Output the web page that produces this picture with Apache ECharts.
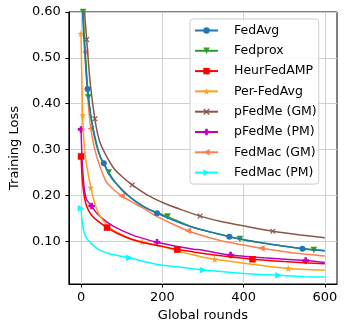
<!DOCTYPE html>
<html><head><meta charset="utf-8">
<script src="https://cdn.jsdelivr.net/npm/echarts@6/dist/echarts.min.js"></script>
<style>html,body{margin:0;padding:0;background:#fff}#c{width:346px;height:330px}</style>
</head><body><div id="c"></div>
<script>
var seriesNames = ['FedAvg','Fedprox','HeurFedAMP','Per-FedAvg','pFedMe (GM)','pFedMe (PM)','FedMac (GM)','FedMac (PM)'];
var xFedAvg = [0,4,10,16,25,35,47,56,75,102,130,160,187,230,277,320,365,420,480,545,600];
var yFedAvg = [1.0,0.6,0.5,0.432,0.37,0.325,0.285,0.27,0.238,0.212,0.19,0.173,0.161,0.145,0.13,0.12,0.110,0.1,0.092,0.084,0.08];
var mFedAvg = [16,56,187,365,545];
var xFedprox = [0,5,10,18,30,45,68,100,130,160,213,277,330,391,450,510,573,600];
var yFedprox = [1.0,0.6,0.52,0.414,0.34,0.29,0.25,0.212,0.19,0.173,0.154,0.13,0.118,0.105,0.096,0.088,0.081,0.079];
var mFedprox = [5,18,68,213,391,573];
var xHeur = [0,2,4,8,14,25,40,64,90,126,160,201,237,277,297,350,422,500,600];
var yHeur = [0.285,0.25,0.226,0.198,0.176,0.158,0.145,0.13,0.117,0.104,0.096,0.089,0.082,0.077,0.074,0.068,0.061,0.056,0.051];
var mHeur = [0,64,237,422];
var xPer = [0,4,10,24,35,46,65,86,126,151,201,250,277,297,329,420,510,600];
var yPer = [0.553,0.375,0.29,0.217,0.18,0.156,0.135,0.121,0.104,0.099,0.088,0.076,0.07,0.066,0.061,0.05,0.041,0.037];
var mPer = [0,4,24,151,329,510];
var xPGM = [0,9,14,22,34,45,60,80,100,126,165,205,250,293,350,410,472,540,600];
var yPGM = [1.2,0.6,0.54,0.45,0.367,0.32,0.29,0.26,0.242,0.223,0.2,0.183,0.168,0.155,0.142,0.132,0.122,0.114,0.108];
var mPGM = [14,34,126,293,472];
var xPPM = [0,2,4,8,14,26,40,64,86,126,150,187,230,277,297,368,450,553,600];
var yPPM = [0.344,0.29,0.255,0.215,0.19,0.177,0.16,0.142,0.13,0.114,0.107,0.098,0.09,0.083,0.081,0.070,0.064,0.058,0.054];
var mPPM = [0,26,187,368,553];
var xMGM = [0,5,10,16,24,34,46,62,80,100,125,150,181,220,263,300,350,400,444,520,600];
var yMGM = [0.9,0.62,0.513,0.42,0.346,0.3,0.265,0.23,0.213,0.199,0.186,0.174,0.157,0.14,0.123,0.112,0.1,0.092,0.085,0.075,0.068];
var mMGM = [10,24,100,263,444];
var xMPM = [0,2,4,8,14,25,46,75,119,160,201,250,301,400,486,550,600];
var yMPM = [0.172,0.15,0.135,0.118,0.107,0.095,0.081,0.072,0.064,0.055,0.048,0.043,0.0375,0.030,0.026,0.023,0.022];
var mMPM = [0,119,301,486];
var xTicks = [0,200,400,600];
var yTicks = [0.1,0.2,0.3,0.4,0.5,0.6];

var colors = ['#1f77b4','#2ca02c','#ff0000','#ff9f1c','#8c564b','#bf00bf','#ff7f50','#00ffff'];
var STAR = 'path://M0,-10L2.35,-3.24L9.51,-3.09L3.8,1.24L5.88,8.09L0,4L-5.88,8.09L-3.8,1.24L-9.51,-3.09L-2.35,-3.24Z';
var XS = 'path://M0,1.5L1.5,0L5,3.5L8.5,0L10,1.5L6.5,5L10,8.5L8.5,10L5,6.5L1.5,10L0,8.5L3.5,5Z';
var PLUS = 'path://M3,0H7V3H10V7H7V10H3V7H0V3H3Z';
var symbols = ['circle','triangle','rect',STAR,XS,PLUS,'triangle','triangle'];
var rotates = [0,180,0,0,0,0,90,-90];
var sizes = [6,6.5,6.5,7,5.5,6.5,6.5,6.5];
var xs = [xFedAvg,xFedprox,xHeur,xPer,xPGM,xPPM,xMGM,xMPM];
var ys = [yFedAvg,yFedprox,yHeur,yPer,yPGM,yPPM,yMGM,yMPM];
var ms = [mFedAvg,mFedprox,mHeur,mPer,mPGM,mPPM,mMGM,mMPM];

var series = seriesNames.map(function(n,i){
  var data = xs[i].map(function(x,j){
    var it = {value:[x, ys[i][j]]};
    if (ms[i].indexOf(x) < 0) it.symbol = 'none';
    return it;
  });
  return {
    name:n, type:'line', data:data, smooth:0.2,
    symbol:symbols[i], symbolSize:sizes[i], symbolRotate:rotates[i],
    showSymbol:true, showAllSymbol:true, clip:true,
    lineStyle:{width:1.5,color:colors[i]}, itemStyle:{color:colors[i]},
    emphasis:{disabled:true}, animation:false, z: 10-i
  };
});
var font = 'DejaVu Sans';
var chart = echarts.init(document.getElementById('c'));
chart.setOption({
  animation:false,
  grid:{left:62,right:9,top:12,bottom:46,show:true,borderColor:'#000',borderWidth:1,backgroundColor:'transparent'},
  xAxis:{type:'value',min:-30,max:630,
    name:'Global rounds',nameLocation:'middle',nameGap:25,
    nameTextStyle:{fontFamily:font,fontSize:13,color:'#000'},
    axisLine:{onZero:false,lineStyle:{color:'#000',width:1}},
    axisTick:{customValues:xTicks,length:3.5,lineStyle:{color:'#000'}},
    axisLabel:{customValues:xTicks,fontFamily:font,fontSize:13,color:'#000',margin:7},
    splitLine:{show:true,lineStyle:{color:'#d0d0d0',width:1}}},
  yAxis:{type:'value',min:0.007,max:0.6,
    name:'Training Loss',nameLocation:'middle',nameGap:44,nameRotate:90,
    nameTextStyle:{fontFamily:font,fontSize:13,color:'#000'},
    axisLine:{onZero:false,lineStyle:{color:'#000',width:1}},
    axisTick:{customValues:yTicks,length:3.5,lineStyle:{color:'#000'}},
    axisLabel:{customValues:yTicks,fontFamily:font,fontSize:13,color:'#000',margin:8,
      formatter:function(v){return v.toFixed(2);}},
    splitLine:{show:true,lineStyle:{color:'#d0d0d0',width:1}}},
  legend:{orient:'vertical',left:190,top:19,itemWidth:23,itemHeight:8,itemGap:7.3,
    padding:[5,2,5,4],backgroundColor:'rgba(255,255,255,0.85)',borderColor:'#cccccc',borderWidth:1,borderRadius:3,
    textStyle:{fontFamily:font,fontSize:12.5,color:'#000',padding:[0,0,0,11]},
    data:seriesNames},
  series:series
});
</script></body></html>
